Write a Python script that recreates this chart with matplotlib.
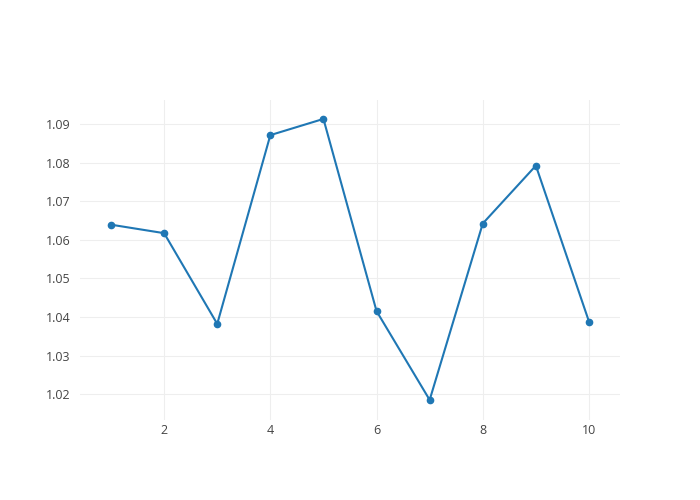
import matplotlib.pyplot as plt

plt.rcParams['font.family'] = ['Open Sans', 'DejaVu Sans']

# data
x_vals = [1, 2, 3, 4, 5, 6, 7, 8, 9, 10]
y_vals = [1.0639, 1.0617, 1.0382, 1.0871, 1.0913, 1.0415, 1.0185, 1.0642, 1.0792, 1.0388]
x_ticks = [2, 4, 6, 8, 10]
y_ticks = [1.02, 1.03, 1.04, 1.05, 1.06, 1.07, 1.08, 1.09]

fig = plt.figure(figsize=(7, 5), dpi=100)
ax = fig.add_axes([80 / 700, 80 / 500, 540 / 700, 320 / 500])

ax.plot(x_vals, y_vals, color="#1f77b4", linewidth=1.5, marker="o",
        markersize=4.5, zorder=3)

ax.set_xlim(0.416, 10.584)
ax.set_ylim(1.0133, 1.0962)
ax.set_xticks(x_ticks)
ax.set_yticks(y_ticks)
ax.set_yticklabels([f"{v:.2f}" for v in y_ticks])

ax.grid(True, color="#eeeeee", linewidth=0.75)
ax.set_axisbelow(True)
for s in ax.spines.values():
    s.set_visible(False)
ax.tick_params(length=0, labelsize=9, labelcolor="#444444")
ax.tick_params(axis="y", pad=7)
ax.tick_params(axis="x", pad=3)

fig.savefig("out.png", dpi=100)
